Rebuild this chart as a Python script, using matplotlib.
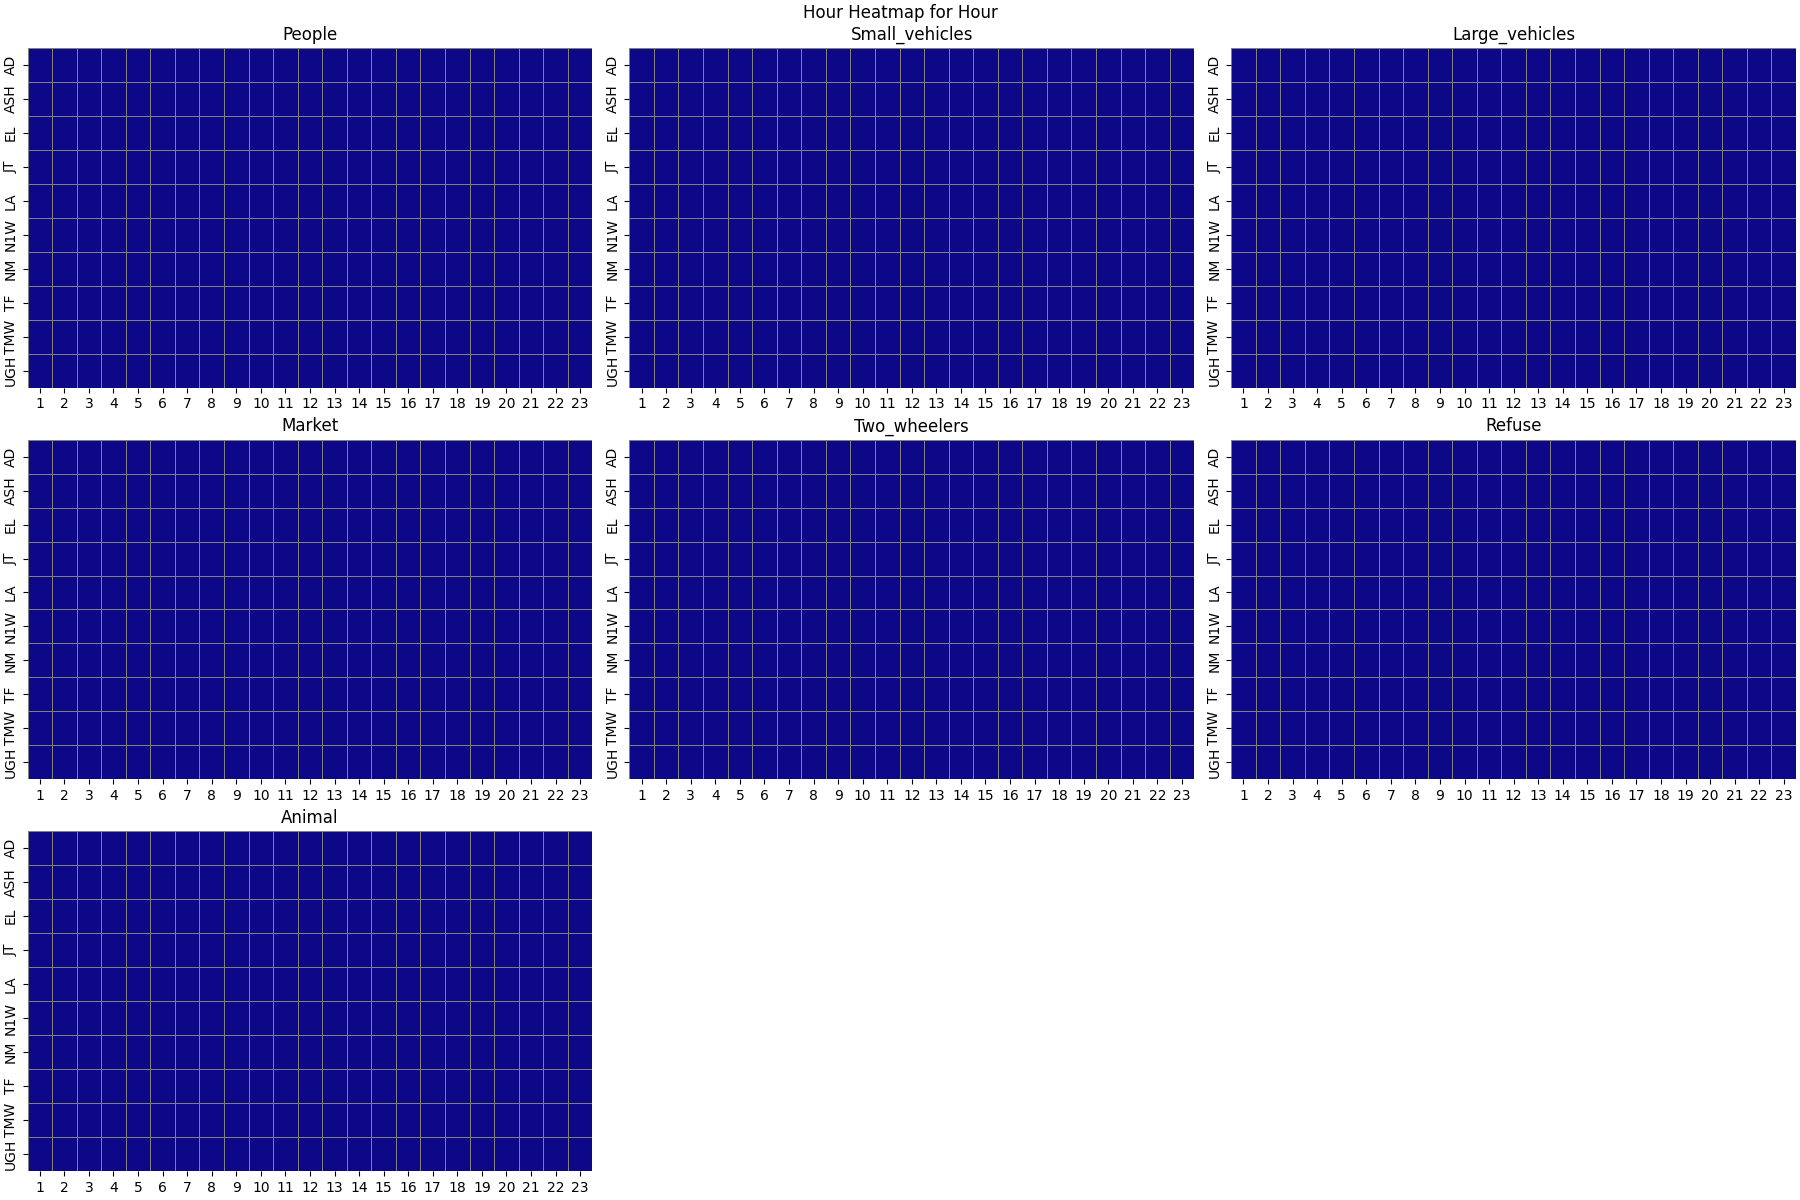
import matplotlib
matplotlib.use("Agg")
import matplotlib.pyplot as plt
import seaborn as sns
import pandas as pd

hours = list(range(1, 24))
locations = ["AD", "ASH", "EL", "JT", "LA", "N1W", "NM", "TF", "TMW", "UGH"]
categories = ["People", "Small_vehicles", "Large_vehicles", "Market",
              "Two_wheelers", "Refuse", "Animal"]

# Every cell in the reference is the lowest colour of the map: all counts are zero.
people = [[0] * 23 for _ in locations]
small_vehicles = [[0] * 23 for _ in locations]
large_vehicles = [[0] * 23 for _ in locations]
market = [[0] * 23 for _ in locations]
two_wheelers = [[0] * 23 for _ in locations]
refuse = [[0] * 23 for _ in locations]
animal = [[0] * 23 for _ in locations]

series = [people, small_vehicles, large_vehicles, market, two_wheelers, refuse, animal]

fig, axes = plt.subplots(3, 3, figsize=(18, 12), dpi=100)
axes = axes.flatten()
for ax, name, vals in zip(axes, categories, series):
    df = pd.DataFrame(vals, index=locations, columns=hours)
    sns.heatmap(df, ax=ax, cmap="plasma", cbar=False, linewidths=0.5, linecolor="gray")
    ax.set_title(name, fontsize=12)
    ax.set_xlabel("")
    ax.set_ylabel("")
    ax.tick_params(axis="x", labelrotation=0, labelsize=10)
    ax.tick_params(axis="y", labelrotation=90, labelsize=10)
    for lbl in ax.get_yticklabels():
        lbl.set_va("center")
for ax in axes[len(categories):]:
    ax.remove()
fig.suptitle("Hour Heatmap for Hour", fontsize=12, y=0.997)
fig.subplots_adjust(left=0.0153, right=0.9978, top=0.96, bottom=0.0242,
                    wspace=0.0655, hspace=0.153)
fig.savefig("out.png", dpi=100)
